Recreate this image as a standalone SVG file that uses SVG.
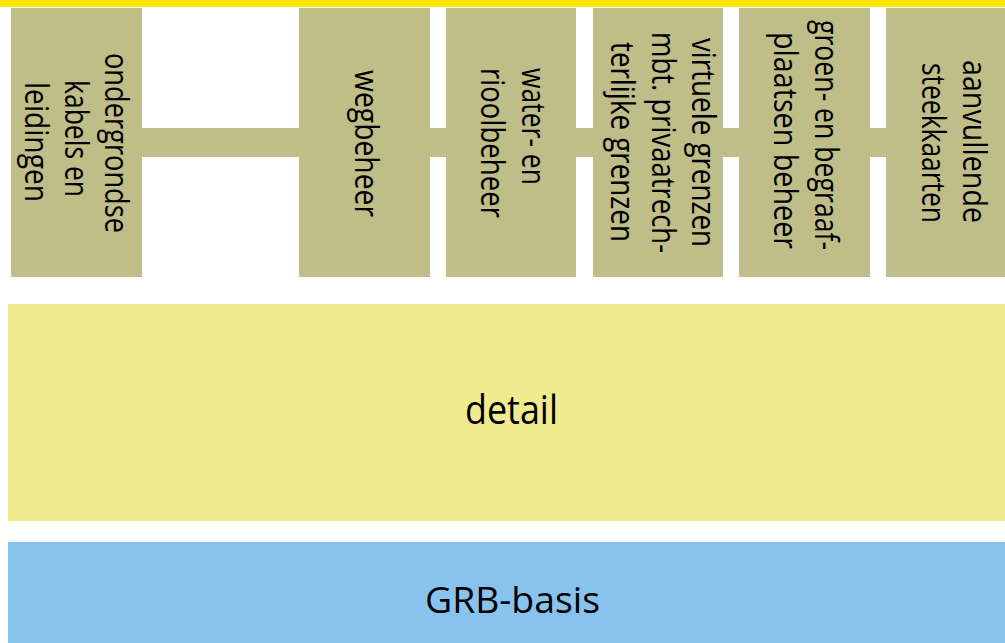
<svg xmlns="http://www.w3.org/2000/svg" width="1005" height="643" viewBox="0 0 1005 643">
<style>
.box{fill:#BFBD88}
.lbl{font-family:"Open Sans","Noto Sans","Liberation Sans",sans-serif;font-size:33px;fill:#000}
.big{font-family:"Open Sans","Noto Sans","Liberation Sans",sans-serif;fill:#000}
</style>
<rect x="0" y="0" width="1005" height="643" fill="#FFFFFF"/>
<rect x="0" y="0" width="1005" height="7" fill="#FFE600"/>
<g id="connectors">
<rect class="box" x="140" y="128" width="750" height="29"/>
</g>
<g id="node-kabels">
<rect class="box" x="11" y="8" width="131" height="269"/>
<text class="lbl" transform="translate(105,53) rotate(90)" textLength="180" lengthAdjust="spacingAndGlyphs">ondergrondse</text>
<text class="lbl" transform="translate(65,80) rotate(90)" textLength="117" lengthAdjust="spacingAndGlyphs">kabels en</text>
<text class="lbl" transform="translate(25,82) rotate(90)" textLength="120" lengthAdjust="spacingAndGlyphs">leidingen</text>
</g>
<g id="node-wegbeheer">
<rect class="box" x="299" y="8" width="131" height="269"/>
<text class="lbl" transform="translate(355,70) rotate(90)" textLength="147" lengthAdjust="spacingAndGlyphs">wegbeheer</text>
</g>
<g id="node-water">
<rect class="box" x="446" y="8" width="130" height="269"/>
<text class="lbl" transform="translate(522,68) rotate(90)" textLength="117" lengthAdjust="spacingAndGlyphs">water- en</text>
<text class="lbl" transform="translate(481,68) rotate(90)" textLength="150" lengthAdjust="spacingAndGlyphs">rioolbeheer</text>
</g>
<g id="node-grenzen">
<rect class="box" x="593" y="8" width="130" height="269"/>
<text class="lbl" transform="translate(692,38) rotate(90)" textLength="209" lengthAdjust="spacingAndGlyphs">virtuele grenzen</text>
<text class="lbl" transform="translate(652,32) rotate(90)" textLength="221" lengthAdjust="spacingAndGlyphs">mbt. privaatrech-</text>
<text class="lbl" transform="translate(611,42) rotate(90)" textLength="200" lengthAdjust="spacingAndGlyphs">terlijke grenzen</text>
</g>
<g id="node-groen">
<rect class="box" x="739" y="8" width="131" height="269"/>
<text class="lbl" transform="translate(815,20) rotate(90)" textLength="230" lengthAdjust="spacingAndGlyphs">groen- en begraaf-</text>
<text class="lbl" transform="translate(774,32) rotate(90)" textLength="217" lengthAdjust="spacingAndGlyphs">plaatsen beheer</text>
</g>
<g id="node-steekkaarten">
<rect class="box" x="886" y="8" width="131" height="269"/>
<text class="lbl" transform="translate(963,60) rotate(90)" textLength="163" lengthAdjust="spacingAndGlyphs">aanvullende</text>
<text class="lbl" transform="translate(922,63) rotate(90)" textLength="160" lengthAdjust="spacingAndGlyphs">steekkaarten</text>
</g>
<g id="node-detail">
<rect x="8" y="304" width="1005" height="217" fill="#F0EB8E"/>
<text class="big" x="465" y="424" font-size="41" textLength="93" lengthAdjust="spacingAndGlyphs">detail</text>
</g>
<g id="node-grb">
<rect x="8" y="542" width="1005" height="110" fill="#88C3EE"/>
<text class="big" x="425" y="613" font-size="37" textLength="175" lengthAdjust="spacingAndGlyphs">GRB-basis</text>
</g>
</svg>
